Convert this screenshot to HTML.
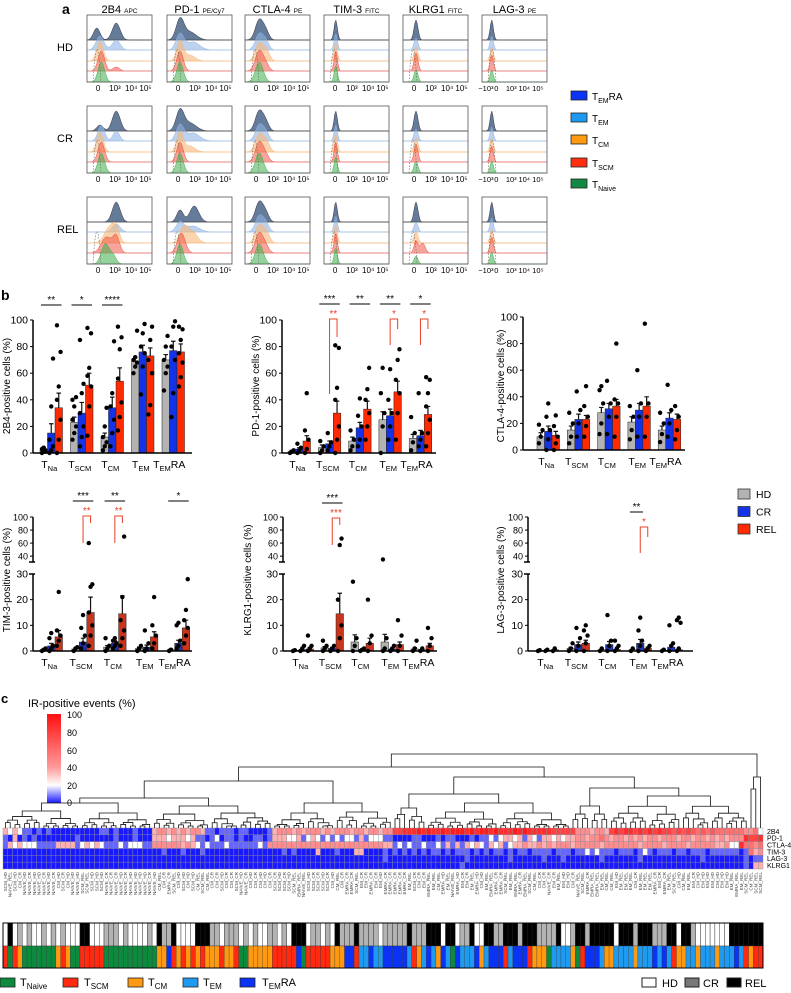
<!DOCTYPE html>
<html><head><meta charset="utf-8">
<style>
html,body{margin:0;padding:0;background:#fff;}
svg{display:block;font-family:"Liberation Sans",Arial,sans-serif;}
</style></head>
<body>
<svg id="fig" width="791" height="993" viewBox="0 0 791 993" xmlns="http://www.w3.org/2000/svg">
<rect x="0" y="0" width="791" height="993" fill="#fff"/>
<text x="62" y="14" font-size="14" font-weight="bold">a</text>
<text x="1" y="300" font-size="14" font-weight="bold">b</text>
<text x="1" y="703" font-size="13" font-weight="bold">c</text>
<text x="28" y="707" font-size="11">IR-positive events (%)</text>
<defs>
<linearGradient id="cbg" x1="0" y1="1" x2="0" y2="0">
<stop offset="0" stop-color="#1a1aff"/><stop offset="0.2" stop-color="#ffffff"/><stop offset="0.4" stop-color="#ff9a9a"/><stop offset="1" stop-color="#ff1010"/>
</linearGradient>
</defs>
<rect x="47" y="714" width="14" height="89" fill="url(#cbg)"/>
<g font-size="9">
<text x="67" y="718">100</text><text x="67" y="736">80</text><text x="67" y="754">60</text><text x="67" y="771">40</text><text x="67" y="789">20</text><text x="67" y="806">0</text>
</g>
</svg>
<script>
const NS='http://www.w3.org/2000/svg';
const svg=document.getElementById('fig');
function mk(tag,attrs,parent){const e=document.createElementNS(NS,tag);for(const k in attrs)e.setAttribute(k,attrs[k]);(parent||svg).appendChild(e);return e;}

/* ---------------- PANEL A: histograms ---------------- */
const markers=['2B4','PD-1','CTLA-4','TIM-3','KLRG1','LAG-3'];
const fluor=['APC','PE/Cy7','PE','FITC','FITC','PE'];
const conditions=['HD','CR','REL'];
const pops=['EMRA','EM','CM','SCM','Naive'];
// peak [center fraction, width fraction, relative height] per marker/condition/population
const peaks2B4HD=[[[0.15,.05,.6],[0.45,.06,.85]],[[0.2,.06,.7],[0.45,.06,.5]],[[0.2,.05,1]],[[0.22,.05,1],[0.45,.05,.2]],[[0.22,.05,1]]];
const peaks2B4CR=[[[0.2,.05,.3],[0.45,.06,1]],[[0.22,.05,.8],[0.45,.05,.5]],[[0.2,.05,1]],[[0.22,.05,1]],[[0.22,.05,1]]];
const peaks2B4REL=[[[0.45,.06,1]],[[0.45,.06,.4]],[[0.35,.08,.8],[0.45,.05,.6]],[[0.3,.08,.8],[0.45,.05,.8]],[[0.28,.06,1],[0.4,.05,.4]]];
const peaksPD1=[[[0.2,.06,1],[0.35,.1,.4]],[[0.2,.06,.8],[0.4,.1,.4]],[[0.2,.05,1],[0.35,.08,.3]],[[0.2,.05,1]],[[0.2,.05,1]]];
const peaksPD1REL=[[[0.2,.05,.6],[0.42,.07,.8]],[[0.2,.06,.5],[0.4,.1,.3]],[[0.25,.06,.7],[0.38,.08,.6]],[[0.22,.06,1]],[[0.2,.05,1]]];
const peaksCTLA=[[[0.22,.06,1],[0.32,.05,.4]],[[0.22,.06,.8],[0.32,.05,.4]],[[0.22,.06,.9],[0.33,.05,.5]],[[0.22,.06,1],[0.32,.05,.3]],[[0.22,.06,1]]];
const peaksTIM=[[[0.18,.025,1]],[[0.18,.025,.8]],[[0.18,.025,.9]],[[0.18,.025,1]],[[0.18,.025,.8]]];
const peaksKLRG=[[[0.2,.03,1]],[[0.2,.03,.6]],[[0.2,.03,.7]],[[0.2,.03,.9]],[[0.2,.03,.6]]];
const peaksKLRGREL=[[[0.2,.03,1]],[[0.2,.03,.5]],[[0.2,.03,.6]],[[0.2,.03,.6],[0.3,.04,.5]],[[0.2,.03,.4]]];
const peaksLAG=[[[0.15,.025,1]],[[0.15,.025,.7]],[[0.15,.025,.7]],[[0.15,.025,.8]],[[0.15,.025,.6]]];
const histPeaks=[[peaks2B4HD,peaks2B4CR,peaks2B4REL],[peaksPD1,peaksPD1,peaksPD1REL],[peaksCTLA,peaksCTLA,peaksCTLA],[peaksTIM,peaksTIM,peaksTIM],[peaksKLRG,peaksKLRG,peaksKLRGREL],[peaksLAG,peaksLAG,peaksLAG]];
const popFill=['#3d5a80','#8fb4e3','#f7b87a','#ef4a3a','#3cb04a'];
const popOpacity=[0.8,0.6,0.6,0.5,0.55];
const popLine=['#555','#a9c4e6','#f6c08a','#ec8a8a','#7c7'];
const colX=[87,167,245,324,403,482];
const rowY=[15,106,197];
const boxW=65,boxH=67;

markers.forEach((m,ci)=>{
  const hx=mk('text',{x:colX[ci]+boxW/2,y:13,'font-size':11,'text-anchor':'middle'});
  
  
  hx.textContent=m+' ';
  const ts=mk('tspan',{'font-size':6.5},hx);ts.textContent=fluor[ci];
});
conditions.forEach((c,ri)=>{
  const t=mk('text',{x:57,y:rowY[ri]+36,'font-size':11});
  
  
  t.textContent=c;
});
const baseOff=[25,35,46,56,67];
conditions.forEach((c,ri)=>{
  markers.forEach((m,ci)=>{
    const x0=colX[ci],y0=rowY[ri];
    const g=mk('g',{});
    
    
    pops.forEach((p,pi)=>{
      const base=y0+baseOff[pi];
      const pk=histPeaks[ci][ri][pi];
      let d='M'+x0+','+base;
      for(let s=0;s<=60;s++){
        const f=s/60;let v=0;
        pk.forEach(q=>{v+=q[2]*Math.exp(-Math.pow((f-q[0])/q[1],2)/2);});
        d+=' L'+(x0+f*boxW).toFixed(1)+','+(base-Math.min(v,1.15)*20).toFixed(1);
      }
      d+=' L'+(x0+boxW)+','+base+' Z';
      const path=mk('path',{d:d,fill:popFill[pi],'fill-opacity':popOpacity[pi],stroke:pi==0?'#334':popFill[pi],'stroke-width':0.5},g);
      
      
      const ln=mk('line',{x1:x0,x2:x0+boxW,y1:base,y2:base,stroke:popLine[pi],'stroke-width':0.8},g);
      
      
    });
    const ctl=mk('path',{d:'M'+(x0+6)+','+(y0+baseOff[4])+' Q'+(x0+10)+','+(y0+2)+' '+(x0+14)+','+(y0+baseOff[4]),fill:'none',stroke:'#666','stroke-dasharray':'1.5,1.5','stroke-width':0.6},g);
    
    
    const bx=mk('rect',{x:x0,y:y0,width:boxW,height:boxH,fill:'none',stroke:'#555','stroke-width':0.8},g);
    
    
    const ticks=ci==5?[['−10³',0.06],['0',0.22],['10³',0.45],['10⁴',0.65],['10⁵',0.86]]:[['0',0.17],['10³',0.43],['10⁴',0.68],['10⁵',0.9]];
    ticks.forEach(t=>{
      const tt=mk('text',{x:x0+t[1]*boxW,y:y0+boxH+9,'font-size':ci==5?7.5:8,'text-anchor':'middle'},g);
      
      
      tt.textContent=t[0];
    });
  });
});
// legend a
const legAY=[96,118,140,163,184];
const legASub=[['EM','RA'],['EM',''],['CM',''],['SCM',''],['Naive','']];
const legAColor=['#0b33f5','#1e9bf0','#ff9a10','#ff3010','#118844'];
legASub.forEach((s,i)=>{
  const r=mk('rect',{x:571,y:legAY[i]-5,width:16,height:9,fill:legAColor[i],stroke:'#222','stroke-width':0.8});
  
  
  const t=mk('text',{x:592,y:legAY[i]+4,'font-size':10});
  
  
  t.textContent='T';
  const a=mk('tspan',{'font-size':7,dy:3},t);a.textContent=s[0];
  if(s[1]){const b=mk('tspan',{'font-size':10,dy:-3},t);b.textContent=s[1];}
});

/* ---------------- PANEL B: bar charts ---------------- */
const categories=[['Na',''],['SCM',''],['CM',''],['EM',''],['EM','RA']];
const groups=['HD','CR','REL'];
// 2B4
const b2B4Mean=[[2,23,12,69,70],[15,30,34,76,77],[34,51,54,73,76]];
const b2B4Err=[[1,4,3,3,4],[7,8,8,5,7],[11,9,10,6,6]];
const b2B4Pts=[
 [[0,1,2,3,4,1],[10,15,20,25,35,42,40],[2,5,8,12,20,34],[60,65,68,70,72,92],[47,60,65,70,80,88]],
 [[0,2,5,10,35,71],[5,12,20,30,45,52,85],[5,15,25,35,45,84],[44,65,75,80,90,97],[27,45,70,80,95,99]],
 [[0,10,25,40,50,76,96],[13,35,50,58,64,90,94],[17,27,38,56,78,87,95],[29,36,60,70,85,95],[50,57,68,75,85,93,95]]];
// PD-1
const bPD1Mean=[[1,4,9,25,11],[3,7,19,28,13],[9,30,33,46,29]];
const bPD1Err=[[1,2,3,6,3],[1,2,4,5,4],[4,9,6,8,6]];
const bPD1Pts=[
 [[0,1,2],[0,2,5,9],[2,5,10,17],[0,20,30,45,64],[2,8,15,27]],
 [[0,2,4,7],[2,5,8,15],[5,10,20,28,41],[10,20,30,40,63],[5,10,15,45]],
 [[0,3,10,17,45],[0,10,20,40,49,79,81],[10,20,30,40,48,64],[10,30,45,55,70,78],[5,15,25,35,45,55,57]]];
// CTLA-4
const bCTLAMean=[[10,15,28,21,15],[14,23,31,30,24],[11,23,33,33,23]];
const bCTLAErr=[[3,3,4,4,3],[4,4,4,5,4],[3,3,5,7,4]];
const bCTLAPts=[
 [[5,10,15,19],[5,10,20,28],[12,20,35,45,48],[8,15,25,33],[6,12,20,28]],
 [[0,8,15,25,35],[10,20,30,44],[12,25,35,52],[10,25,35,60],[10,20,30,49]],
 [[0,5,10,18,26],[10,18,25,33,48],[10,25,35,38,80],[10,25,35,95],[8,15,25,33]]];
// TIM-3
const bTIMMean=[[0.5,0.8,1.5,1,0.5],[2,3.5,3,1.5,3],[5.5,15,14.5,5.5,9]];
const bTIMErr=[[0.3,0.4,0.6,0.5,0.3],[1,1.5,1,0.8,1.2],[2.5,6,7,2,3]];
const bTIMPts=[
 [[0,0.5,1],[0,1,1.5],[0,1,2,5],[0,1,2],[0,0.5]],
 [[0,1,2,5,7],[1,3,6,9,14],[1,2,3,4,5],[0,1,3,8],[1,2,4,10,11]],
 [[2,4,6,8,23],[2,6,10,15,25,26,60],[2,5,8,12,21,70],[1,3,6,10,21],[3,6,9,12,16,28]]];
// KLRG1
const bKLRGMean=[[0.3,1.2,3.5,3.5,0.8],[0.5,1,0.5,0.8,0.5],[0.8,14.5,3,2.5,2]];
const bKLRGErr=[[0.2,0.5,2.8,3,0.5],[0.3,0.4,0.3,0.3,0.2],[0.5,8,2,1,1]];
const bKLRGPts=[
 [[0,0.3],[0,1,2,4],[0,2,5,27],[0,1,5,35],[0,1,4]],
 [[0,1,2],[0,1,2],[0,0.5,1],[0,1,2],[0,1]],
 [[0,1,2,6],[0,5,10,20,57,67],[0,3,6,20],[0,2,6,12],[0,2,5,9]]];
// LAG-3
const bLAGMean=[[0.2,1,0.5,0.5,0.3],[0.3,2.5,2.5,3,1.5],[0.5,3,0.6,1,0.5]];
const bLAGErr=[[0.1,0.4,0.2,0.2,0.1],[0.2,1,1.2,1.5,0.8],[0.2,1.2,0.3,0.5,0.3]];
const bLAGPts=[
 [[0,0.3],[0,1,3],[0,1],[0,1],[0,0.5]],
 [[0,0.5],[0,2,5,9],[0,2,4,14],[0,2,4,8,13],[0,2,3,10]],
 [[0,1],[0,3,6,8,10],[0,1,2,4],[0,1,2],[0,1,11,12,13]]];

// significance: [category, text, color, type]
const sig2B4=[[0,'**','k'],[1,'*','k'],[2,'****','k']];
const sigPD1=[[1,'***','k'],[1,'**','r',75,18],[2,'**','k'],[3,'**','k'],[3,'*','r',26,10],[4,'*','r',26,10],[4,'*','k']];
const sigCTLA=[];
const sigTIM=[[1,'***','k'],[1,'**','r',27,7],[2,'**','k'],[2,'**','r',27,7],[4,'*','k']];
const sigKLRG=[[1,'***','k'],[1,'***','r',27,7]];
const sigLAG=[[3,'**','k2'],[3,'*','r',26,10]];

const charts=[
 {key:'2b4',title:'2B4-positive cells (%)',mean:b2B4Mean,err:b2B4Err,pts:b2B4Pts,sig:sig2B4,ax:33,g0:40,sp:30.5,xe:192,y0:453,y100:320,broken:false,tx:10,sigY:305},
 {key:'pd1',title:'PD-1-positive cells (%)',mean:bPD1Mean,err:bPD1Err,pts:bPD1Pts,sig:sigPD1,ax:282,g0:288,sp:30.3,xe:436,y0:453,y100:320,broken:false,tx:259,sigY:304},
 {key:'ctla4',title:'CTLA-4-positive cells (%)',mean:bCTLAMean,err:bCTLAErr,pts:bCTLAPts,sig:sigCTLA,ax:523,g0:537,sp:30.3,xe:685,y0:450,y100:317,broken:false,tx:504,sigY:304},
 {key:'tim3',title:'TIM-3-positive cells (%)',mean:bTIMMean,err:bTIMErr,pts:bTIMPts,sig:sigTIM,ax:33,g0:40,sp:31.8,xe:192,broken:true,tx:10,sigY:501},
 {key:'klrg1',title:'KLRG1-positive cells (%)',mean:bKLRGMean,err:bKLRGErr,pts:bKLRGPts,sig:sigKLRG,ax:283,g0:291,sp:30,xe:437,broken:true,tx:251,sigY:503},
 {key:'lag3',title:'LAG-3-positive cells (%)',mean:bLAGMean,err:bLAGErr,pts:bLAGPts,sig:sigLAG,ax:528,g0:536,sp:31,xe:693,broken:true,tx:504,sigY:512}
];
const barW=7.5;
charts.forEach(c=>{
  const g=mk('g',{});
  
  
  const Y=c.broken?(v=>v<=30?651-v*77/30:562-(v-31)*45/69):(v=>c.y0-v/100*(c.y0-c.y100));
  const base=Y(0);
  const top=c.broken;
  const hdC='#b3b3b3',crC=top?'#1f33b8':'#1432e6',relC=top?'#c8341c':'#ff2a00';
  const cols=[hdC,crC,relC];
  // bars
  c.mean.forEach((ser,gi)=>{
    ser.forEach((v,k)=>{
      const x=c.g0+k*c.sp+gi*barW;
      const r=mk('rect',{x:x,y:Y(v),width:barW,height:base-Y(v),fill:cols[gi],stroke:'#222','stroke-width':0.5},g);
      
      
      const e=c.err[gi][k];
      const eb=mk('path',{d:'M'+(x+barW/2)+','+Y(v)+' V'+Y(v+e)+' M'+(x+1.5)+','+Y(v+e)+' H'+(x+barW-1.5),stroke:'#111','stroke-width':1.2,fill:'none'},g);
      
      
      c.pts[gi][k].forEach((p,pi)=>{
        const jx=x+barW/2+((pi%3)-1)*1.8;
        const dot=mk('circle',{cx:jx,cy:Y(p),r:2.2,fill:'#000'},g);
        
        
      });
    });
  });
  // axes
  const xa=mk('line',{x1:c.ax,x2:c.xe,y1:base,y2:base,stroke:'#000','stroke-width':1.5},g);
  
  
  let ticks;
  if(!c.broken){
    const ya=mk('line',{x1:c.ax,x2:c.ax,y1:Y(0),y2:Y(100),stroke:'#000','stroke-width':1.5},g);
    
    
    ticks=[0,20,40,60,80,100];
  }else{
    const ya=mk('path',{d:'M'+c.ax+','+Y(0)+' V'+Y(30)+' M'+(c.ax-4)+','+Y(30)+' H'+(c.ax+2)+' M'+(c.ax-4)+',562 H'+(c.ax+2)+' M'+c.ax+',562 V'+Y(100),stroke:'#000','stroke-width':1.5,fill:'none'},g);
    
    
    ticks=[0,10,20,30,40,60,80,100];
  }
  ticks.forEach(t=>{
    const tk=mk('line',{x1:c.ax-3,x2:c.ax,y1:Y(t),y2:Y(t),stroke:'#000','stroke-width':1},g);
    
    
    const tl=mk('text',{x:c.ax-5,y:Y(t)+3.5,'font-size':(c.broken&&t>30)?9:10.5,'text-anchor':'end'},g);
    
    
    tl.textContent=t;
  });
  const at=mk('text',{x:c.tx,y:c.broken?580:386,'font-size':10,'text-anchor':'middle',transform:'rotate(-90 '+c.tx+' '+(c.broken?580:386)+')'},g);
  
  
  at.textContent=c.title;
  categories.forEach((cat,k)=>{
    const cx=c.g0+k*c.sp+barW*1.5;
    const t=mk('text',{x:cx-(cat[1]?4:2),y:base+15,'font-size':10.5,'text-anchor':'middle'},g);
    
    
    t.textContent='T';
    const s=mk('tspan',{'font-size':7.5,dy:3},t);s.textContent=cat[0];
    if(cat[1]){const r=mk('tspan',{'font-size':10.5,dy:-3},t);r.textContent=cat[1];}
  });
  c.sig.forEach(s=>{
    const k=s[0];
    const gx=c.g0+k*c.sp;
    if(s[2]==='k'||s[2]==='k2'){
      const x1=gx+1,x2=s[2]==='k2'?gx+barW*2-1:gx+barW*3-1;
      const l=mk('line',{x1:x1,x2:x2,y1:c.sigY,y2:c.sigY,stroke:'#000','stroke-width':1},g);
      
      
      const t=mk('text',{x:(x1+x2)/2,y:c.sigY-2,'font-size':10,'text-anchor':'middle'},g);
      
      
      t.textContent=s[1];
    }else{
      const yb=c.sigY+15;
      const xl=gx+barW*1.5,xr=gx+barW*2.5;
      const p=mk('path',{d:'M'+xl+','+(yb+s[3])+' V'+yb+' H'+xr+' V'+(yb+s[4]),stroke:'#e8402a','stroke-width':1,fill:'none'},g);
      
      
      const t=mk('text',{x:(xl+xr)/2,y:yb-2,'font-size':10,'text-anchor':'middle',fill:'#e8402a'},g);
      
      
      t.textContent=s[1];
    }
  });
});
// legend b
const legBColor=['#b3b3b3','#1432e6','#ff2a00'];
groups.forEach((gname,i)=>{
  const y=489+i*17.5;
  const r=mk('rect',{x:738,y:y,width:12,height:10,fill:legBColor[i],stroke:'#333','stroke-width':0.8});
  
  
  const t=mk('text',{x:756,y:y+9,'font-size':10.5});
  
  
  t.textContent=gname;
});

/* ---------------- PANEL C: heatmap ---------------- */
const rowNames=['2B4','PD-1','CTLA-4','TIM-3','LAG-3','KLRG1'];
// value levels (digit*10 %) per column
const row2B4='3232110101'+'0000000000'+'1101000100'+'0344343434'+'4311011101'+'1000013444'+'3434443434'+'4434434434'+'4778889898'+'8989998989'+'9898889898'+'8888777774'+'4434437878'+'8787878776'+'7676565655'+'55554452';
const rowPD1='1030101000'+'0000010000'+'0001000100'+'0333233323'+'1101201101'+'0011013332'+'2312321212'+'1221312221'+'1000011000'+'1011000101'+'1212332313'+'2133232334'+'4344543443'+'4343443444'+'3443443434'+'34448778';
const rowCTLA='1323222111'+'1333312323'+'2111212221'+'1444444343'+'2121112111'+'1112144444'+'4444444444'+'4444444443'+'3121211211'+'2131313232'+'1323123343'+'3434344434'+'4444344444'+'4434444344'+'4434444433'+'42285545';
const rowTIM='0000000000'+'0000000000'+'0000000000'+'0001000100'+'0100000000'+'0000000010'+'1000030001'+'0003300001'+'0101010101'+'1010111010'+'1011010110'+'1111011101'+'1212111011'+'1012101110'+'1101110111'+'11101534';
const rowLAG='0000000000'+'0000000000'+'0000000000'+'0000000000'+'0000000000'+'0000000000'+'0000000000'+'0000000001'+'0000000000'+'0000001000'+'0000010000'+'0010001000'+'0000100000'+'0010000000'+'0000010000'+'00001011';
const rowKLRG='0000000000'+'0000000000'+'0000000000'+'0000000000'+'0000000000'+'0000000000'+'0000000000'+'0000000000'+'0000000000'+'0000010000'+'0000000000'+'0000000000'+'0000000000'+'0000000000'+'0000000000'+'00001033';
const heatRows=[row2B4,rowPD1,rowCTLA,rowTIM,rowLAG,rowKLRG];
const cellTypes='SNSCNNNNNN'+'NCSCNNSSSS'+'SNNNNNNNNN'+'NNCCRSCSCS'+'CSCCCSCCSN'+'NCCCCCSSSS'+'SRNSSSSSCC'+'CRRSEEREER'+'RRRRESCERE'+'CRENREEERC'+'ERRRSERRRS'+'CCCNEEEECN'+'SRRRECCEEE'+'ECEEERERES'+'CCEECEEECE'+'EERESCSS';
const cellGroups='HRHCHCHHCH'+'CHCHHHRRHH'+'HCCCHCHHHH'+'CHRCCRHHHH'+'RRRCCHCCCH'+'CHCHHCCHCH'+'RRRHCCHCHR'+'CCCRCCCCHC'+'CCCCRCCCRR'+'RHRRHCCRHH'+'RRCCRRRCRR'+'RCCCCRHHCR'+'RCRRRRRHRR'+'RCRRRCCCRR'+'HRRCHHHHHH'+'HRRRRRRR';
const typeName={N:'NAIVE',S:'SCM',C:'CM',E:'EM',R:'EMRA'};
const typeColor={N:'#0c8a3e',S:'#ff2a10',C:'#ff9a10',E:'#1e9bf0',R:'#0b33f5'};
const grpName={H:'HD',C:'CR',R:'REL'};
const grpColor={H:'#ffffff',C:'#b3b3b3',R:'#000000'};
const nCol=cellTypes.length;
const hmX0=3,hmX1=763,hmY0=828,hmY1=869;
const cw=(hmX1-hmX0)/nCol,ch=(hmY1-hmY0)/heatRows.length;
function heatColor(v){
  if(v<20){const t=v/20;const tt=Math.pow(t,1.6);return 'rgb('+Math.round(25+230*tt)+','+Math.round(25+230*tt)+',255)';}
  const t=Math.pow((v-20)/80,0.55);return 'rgb(255,'+Math.round(255*(1-t)+10*t)+','+Math.round(255*(1-t)+10*t)+')';
}
const hm=mk('g',{});


heatRows.forEach((row,ri)=>{
  for(let i=0;i<nCol;i++){
    const v=parseInt(row[i])*10;
    const r=mk('rect',{x:hmX0+i*cw,y:hmY0+ri*ch,width:cw,height:ch,fill:heatColor(v),stroke:'#8a8a9a','stroke-width':0.4},hm);
    
    
  }
  const t=mk('text',{x:hmX1+4,y:hmY0+ri*ch+ch-1,'font-size':7});
  
  
  t.textContent=rowNames[ri];
});
for(let i=0;i<nCol;i++){
  const cx=hmX0+(i+0.5)*cw+1.5;
  const t=mk('text',{x:cx,y:872,'font-size':4.6,fill:'#444','text-anchor':'end',transform:'rotate(-90 '+cx+' 872)'});
  
  
  t.textContent=typeName[cellTypes[i]]+'_'+grpName[cellGroups[i]];
  const g=mk('rect',{x:hmX0+i*cw,y:923,width:cw,height:23,fill:grpColor[cellGroups[i]],stroke:'#222','stroke-width':0.4});
  
  
  const ty=mk('rect',{x:hmX0+i*cw,y:946,width:cw,height:22,fill:typeColor[cellTypes[i]],stroke:'#333','stroke-width':0.3});
  
  
}
const annBorder=mk('rect',{x:hmX0,y:923,width:hmX1-hmX0,height:45,fill:'none',stroke:'#000','stroke-width':1});



// dendrogram
function leafX(i){return hmX0+(i+0.5)*cw;}
function auto(lo,hi,h){
  if(hi-lo===1)return {x:leafX(lo),h:hmY0};
  const mid=lo+Math.ceil((hi-lo)/2)-((lo%2)&&(hi-lo>3)?1:0);
  const step=Math.max(2,(hmY0-h)*0.32);
  const a=auto(lo,mid,Math.min(hmY0-2,h+step+(lo%3)));
  const b=auto(mid,hi,Math.min(hmY0-2,h+step+((hi+1)%3)));
  return {x:(a.x+b.x)/2,h:h,kids:[a,b]};
}
function node(h,a,b){return {x:(a.x+b.x)/2,h:h,kids:[a,b]};}
const D=node(798,auto(0,31,803),auto(31,56,806));
const B=node(781,D,auto(56,81,803));
const H=node(794,auto(81,88,808),auto(88,118,803));
const I=node(788,auto(118,126,806),auto(126,155,796));
const C=node(777,H,I);
const A=node(767,B,C);
const Z=node(777,auto(155,157,789),{x:leafX(157),h:hmY0});
const root=node(754,A,Z);
let dd='';
function drawNode(n){
  if(!n.kids)return;
  const [a,b]=n.kids;
  dd+='M'+a.x.toFixed(1)+','+a.h+' V'+n.h+' H'+b.x.toFixed(1)+' V'+b.h+' ';
  drawNode(a);drawNode(b);
}
drawNode(root);
const dendro=mk('path',{d:dd,fill:'none',stroke:'#111','stroke-width':0.8});



// legend c
const legCT=[['N','Naive',0,20],['S','SCM',63,84],['C','CM',128,148],['E','EM',183,203],['R','EM',240,262]];
legCT.forEach((l,i)=>{
  const r=mk('rect',{x:l[2],y:978,width:15,height:9,fill:typeColor[l[0]],stroke:'#222','stroke-width':0.8});
  
  
  const t=mk('text',{x:l[3],y:986,'font-size':11});
  
  
  t.textContent='T';
  const s=mk('tspan',{'font-size':8,dy:3},t);s.textContent=l[1];
  if(l[0]==='R'){const q=mk('tspan',{'font-size':11,dy:-3},t);q.textContent='RA';}
});
const legCG=[['H',642,662],['C',685,703],['R',727,745]];
legCG.forEach(l=>{
  const r=mk('rect',{x:l[1],y:978,width:14,height:9,fill:l[0]==='C'?'#777':grpColor[l[0]],stroke:'#222','stroke-width':1});
  
  
  const t=mk('text',{x:l[2],y:987,'font-size':11});
  
  
  t.textContent=grpName[l[0]];
});
</script>
</body></html>
